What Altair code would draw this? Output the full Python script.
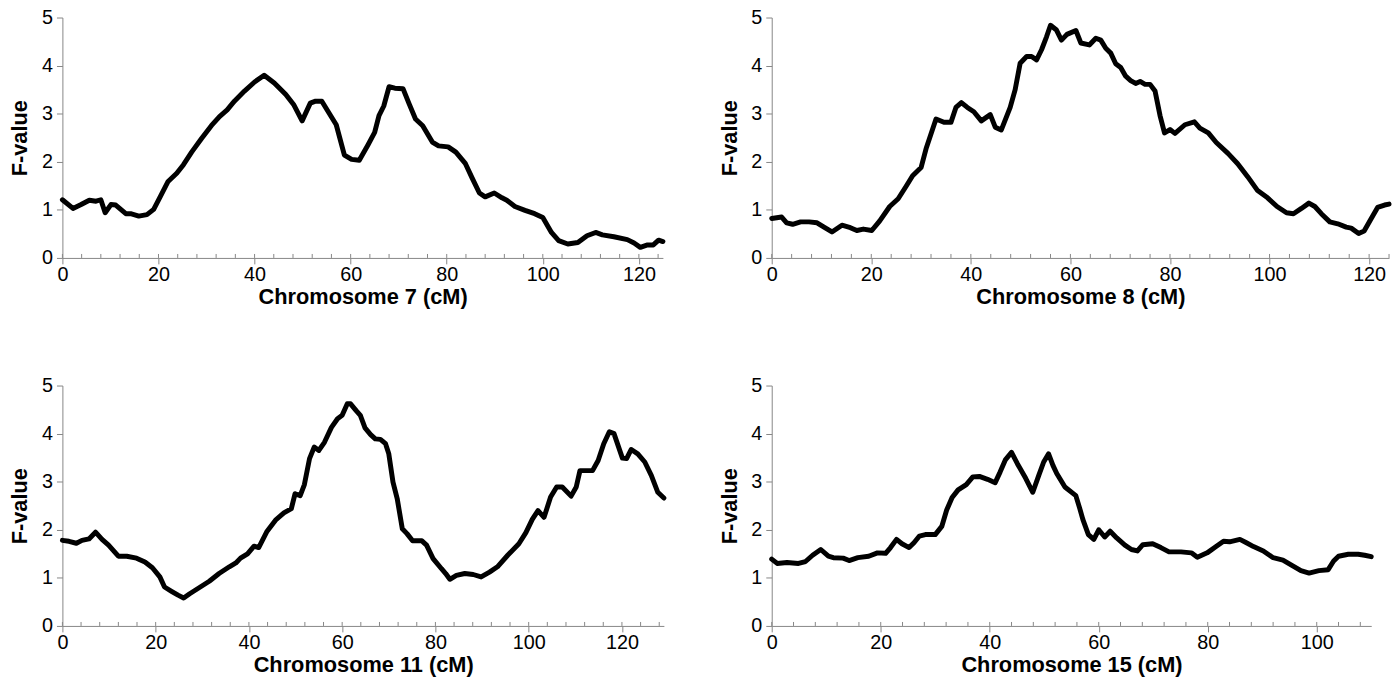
import altair as alt
import pandas as pd

# ---- data ----
chr7_cm = [0, 2.2, 3.9, 5.6, 7.0, 8.0, 8.9, 10.1, 11.1, 13.2, 14.2, 15.9, 17.6, 19.0, 20.4, 22.0,
           23.8, 25.2, 26.9, 29.0, 31.0, 32.7, 34.3, 35.8, 37.9, 40.0, 42.0, 44.1, 46.5, 48.2,
           49.9, 51.6, 52.7, 54.0, 55.4, 57.0, 58.7, 60.2, 61.8, 63.6, 65.0, 65.9, 66.9, 68.0,
           69.2, 70.9, 72.2, 73.5, 75.0, 77.0, 78.3, 80.3, 81.9, 83.9, 85.3, 86.8, 88.0, 89.9,
           91.5, 92.5, 94.2, 96.3, 98.3, 100.0, 101.8, 103.3, 105.2, 107.3, 109.2, 111.0, 112.4,
           114.8, 117.6, 119.0, 120.3, 121.8, 123.0, 124.1, 125.0]
chr7_f = [1.21, 1.03, 1.11, 1.20, 1.18, 1.21, 0.94, 1.11, 1.10, 0.92, 0.92, 0.87, 0.90, 1.01, 1.28, 1.59,
          1.76, 1.94, 2.20, 2.49, 2.75, 2.94, 3.08, 3.26, 3.47, 3.66, 3.80, 3.64, 3.40, 3.18,
          2.85, 3.22, 3.26, 3.26, 3.03, 2.77, 2.14, 2.05, 2.03, 2.35, 2.61, 2.96, 3.16, 3.56,
          3.53, 3.52, 3.20, 2.89, 2.75, 2.41, 2.33, 2.31, 2.20, 1.96, 1.66, 1.35, 1.27, 1.35,
          1.25, 1.20, 1.07, 0.99, 0.92, 0.84, 0.53, 0.36, 0.29, 0.32, 0.46, 0.53, 0.48,
          0.44, 0.38, 0.31, 0.22, 0.27, 0.27, 0.37, 0.34]

chr8_cm = [0, 2.0, 3.0, 4.2, 5.8, 7.5, 9.1, 10.5, 12.1, 14.1, 15.8, 17.1, 18.4, 20.1, 21.7, 23.7,
           25.4, 27.0, 28.3, 30.0, 31.0, 33.0, 34.6, 36.0, 37.0, 38.1, 39.3, 40.6, 42.1, 43.9,
           44.9, 46.1, 47.9, 48.9, 49.9, 51.2, 52.2, 53.2, 54.2, 55.2, 56.0, 57.2, 58.2, 59.3,
           61.1, 62.1, 63.8, 65.1, 66.1, 67.1, 68.1, 69.1, 70.1, 71.1, 72.1, 73.1, 74.0, 75.0,
           76.0, 77.0, 78.0, 78.9, 80.0, 81.0, 83.0, 84.9, 86.0, 87.7, 89.3, 91.7, 93.6, 95.6,
           97.6, 99.6, 101.5, 103.4, 104.8, 106.4, 107.9, 109.1, 110.4, 112.1, 113.7, 115.4,
           116.4, 117.9, 119.0, 120.2, 121.7, 123.1, 124.0]
chr8_f = [0.82, 0.85, 0.73, 0.70, 0.75, 0.75, 0.73, 0.64, 0.54, 0.68, 0.63, 0.57, 0.60, 0.57, 0.77, 1.07,
          1.23, 1.49, 1.71, 1.88, 2.27, 2.89, 2.82, 2.82, 3.13, 3.23, 3.13, 3.04, 2.85, 2.98,
          2.72, 2.66, 3.13, 3.50, 4.05, 4.19, 4.19, 4.12, 4.33, 4.60, 4.84, 4.74, 4.53, 4.65,
          4.73, 4.47, 4.43, 4.57, 4.53, 4.36, 4.26, 4.04, 3.96, 3.78, 3.69, 3.63, 3.67, 3.61,
          3.61, 3.47, 2.96, 2.60, 2.67, 2.59, 2.77, 2.83, 2.70, 2.60, 2.40, 2.17, 1.96, 1.69,
          1.40, 1.25, 1.07, 0.94, 0.92, 1.03, 1.14, 1.07, 0.92, 0.75, 0.71, 0.64,
          0.62, 0.51, 0.56, 0.78, 1.05, 1.10, 1.12]

chr11_cm = [0, 1.4, 3.0, 4.2, 5.7, 7.1, 8.5, 9.9, 12.0, 13.8, 15.9, 17.7, 19.3, 20.9, 21.9, 23.4,
            24.8, 26.0, 27.3, 29.4, 31.5, 33.6, 35.8, 37.2, 38.2, 39.7, 41.1, 42.1, 43.9, 45.7,
            47.5, 49.1, 49.9, 51.0, 51.9, 53.0, 54.0, 55.0, 56.2, 57.7, 59.0, 60.0, 61.1, 61.8,
            63.0, 63.9, 64.9, 66.1, 67.1, 68.2, 69.3, 70.0, 70.9, 71.8, 72.9, 73.9, 75.1, 77.1,
            78.1, 79.5, 81.3, 82.2, 83.1, 84.5, 86.3, 88.1, 89.8, 91.6, 93.3, 95.5, 97.9, 99.4,
            100.8, 102.0, 103.3, 104.7, 106.0, 107.2, 109.1, 110.2, 111.0, 112.3, 113.7, 114.9,
            116.1, 117.3, 118.3, 120.1, 121.0, 122.0, 123.4, 124.9, 126.3, 127.7, 129.0]
chr11_f = [1.78, 1.76, 1.72, 1.78, 1.81, 1.95, 1.80, 1.68, 1.45, 1.45, 1.41, 1.33, 1.21, 1.02, 0.81, 0.72,
           0.64, 0.58, 0.67, 0.80, 0.93, 1.09, 1.23, 1.31, 1.41, 1.50, 1.66, 1.63, 1.97, 2.20,
           2.35, 2.44, 2.75, 2.71, 2.94, 3.48, 3.72, 3.65, 3.82, 4.13, 4.31, 4.38, 4.62, 4.62,
           4.48, 4.38, 4.12, 3.98, 3.89, 3.88, 3.79, 3.58, 2.99, 2.65, 2.02, 1.92, 1.77, 1.77,
           1.68, 1.40, 1.19, 1.09, 0.97, 1.05, 1.09, 1.07, 1.02, 1.12, 1.23, 1.47, 1.71, 1.94,
           2.22, 2.40, 2.26, 2.68, 2.89, 2.89, 2.70, 2.89, 3.23, 3.23, 3.23, 3.44,
           3.79, 4.04, 4.00, 3.49, 3.48, 3.67, 3.58, 3.41, 3.13, 2.78, 2.66]

chr15_cm = [0, 1.0, 2.8, 4.9, 6.2, 7.5, 9.0, 10.4, 11.3, 13.1, 14.2, 15.8, 17.8, 19.4, 20.9, 21.8,
            22.9, 23.9, 25.2, 26.1, 27.1, 28.2, 30.0, 31.2, 32.1, 33.1, 34.2, 35.7, 36.9, 38.1,
            39.6, 41.0, 41.9, 42.9, 44.0, 45.1, 46.6, 47.9, 49.0, 49.9, 50.8, 51.6, 52.3, 53.8,
            55.8, 56.5, 57.1, 58.1, 59.1, 60.0, 61.1, 62.1, 63.3, 64.8, 66.0, 67.1, 68.1, 69.9,
            71.4, 72.9, 75.1, 77.0, 78.1, 79.9, 81.4, 82.9, 84.0, 85.9, 87.1, 88.4, 90.2, 92.0,
            93.8, 95.6, 97.1, 98.6, 100.4, 102.1, 103.1, 104.0, 105.8, 107.6, 108.8, 110.0]
chr15_f = [1.39, 1.30, 1.32, 1.30, 1.34, 1.47, 1.59, 1.45, 1.42, 1.41, 1.36, 1.42, 1.45, 1.52, 1.51, 1.63,
           1.80, 1.71, 1.63, 1.73, 1.87, 1.90, 1.90, 2.07, 2.41, 2.67, 2.83, 2.94, 3.10, 3.11,
           3.05, 2.98, 3.20, 3.46, 3.61, 3.37, 3.07, 2.78, 3.13, 3.41, 3.58, 3.34, 3.17, 2.89,
           2.71, 2.45, 2.21, 1.90, 1.80, 2.00, 1.85, 1.97, 1.83, 1.68, 1.59, 1.56, 1.69, 1.71,
           1.63, 1.54, 1.54, 1.52, 1.43, 1.52, 1.64, 1.76, 1.75, 1.80, 1.73, 1.65, 1.56, 1.42,
           1.37, 1.25, 1.15, 1.10, 1.15, 1.17, 1.35, 1.45, 1.49, 1.49, 1.47, 1.44]

panels = [
    ("Chromosome 7 (cM)", chr7_cm, chr7_f, 125, 607),
    ("Chromosome 8 (cM)", chr8_cm, chr8_f, 124, 624),
    ("Chromosome 11 (cM)", chr11_cm, chr11_f, 129, 608),
    ("Chromosome 15 (cM)", chr15_cm, chr15_f, 110, 606),
]
y_ticks = [0, 1, 2, 3, 4, 5]

GRAY = "#868686"
LABEL_FONT = "Liberation Sans Narrow, Liberation Sans, Arial"
TITLE_FONT = "Liberation Sans, Arial"
H = 243


def panel(title, cm, f, xmax, width):
    df = pd.DataFrame({"cM": cm, "F": f})
    minor = pd.DataFrame({"cM": list(range(0, xmax + 1, 4))})
    xenc = alt.X(
        "cM:Q",
        scale=alt.Scale(domain=[0, xmax], nice=False, zero=False),
        axis=alt.Axis(
            values=list(range(0, xmax + 1, 20)), title=title, grid=False,
            domainColor=GRAY, tickColor=GRAY, tickSize=6, labelPadding=1,
            labelFont=LABEL_FONT, labelFontSize=20, labelColor="black", labelFlush=False,
            titleFont=TITLE_FONT, titleFontSize=22, titleFontWeight="bold", titleColor="black",
            titlePadding=2,
        ),
    )
    line = alt.Chart(df).mark_line(
        color="black", strokeWidth=5, strokeJoin="round", strokeCap="round"
    ).encode(
        x=xenc,
        y=alt.Y(
            "F:Q",
            scale=alt.Scale(domain=[0, 5], nice=False),
            axis=alt.Axis(
                values=y_ticks, title="F-value", grid=False,
                domainColor=GRAY, tickColor=GRAY, tickSize=6, labelPadding=4,
                labelFont=LABEL_FONT, labelFontSize=20, labelColor="black",
                titleFont=TITLE_FONT, titleFontSize=22, titleFontWeight="bold", titleColor="black",
                titlePadding=7, minExtent=24, maxExtent=24,
            ),
        ),
    )
    ticks = alt.Chart(minor).mark_rule(color=GRAY, strokeWidth=1).encode(
        x=xenc, y=alt.value(H), y2=alt.value(H - 4)
    )
    return alt.layer(line, ticks).properties(width=width, height=H)


charts = [panel(*p) for p in panels]
chart = alt.concat(
    *charts, columns=2, spacing={"row": 129, "column": 109}, bounds="flush"
).properties(
    padding={"left": 1, "top": -4, "right": 0, "bottom": 0}
).configure_view(stroke=None)

chart.save("out.html", embed_options={"renderer": "svg", "actions": False})
